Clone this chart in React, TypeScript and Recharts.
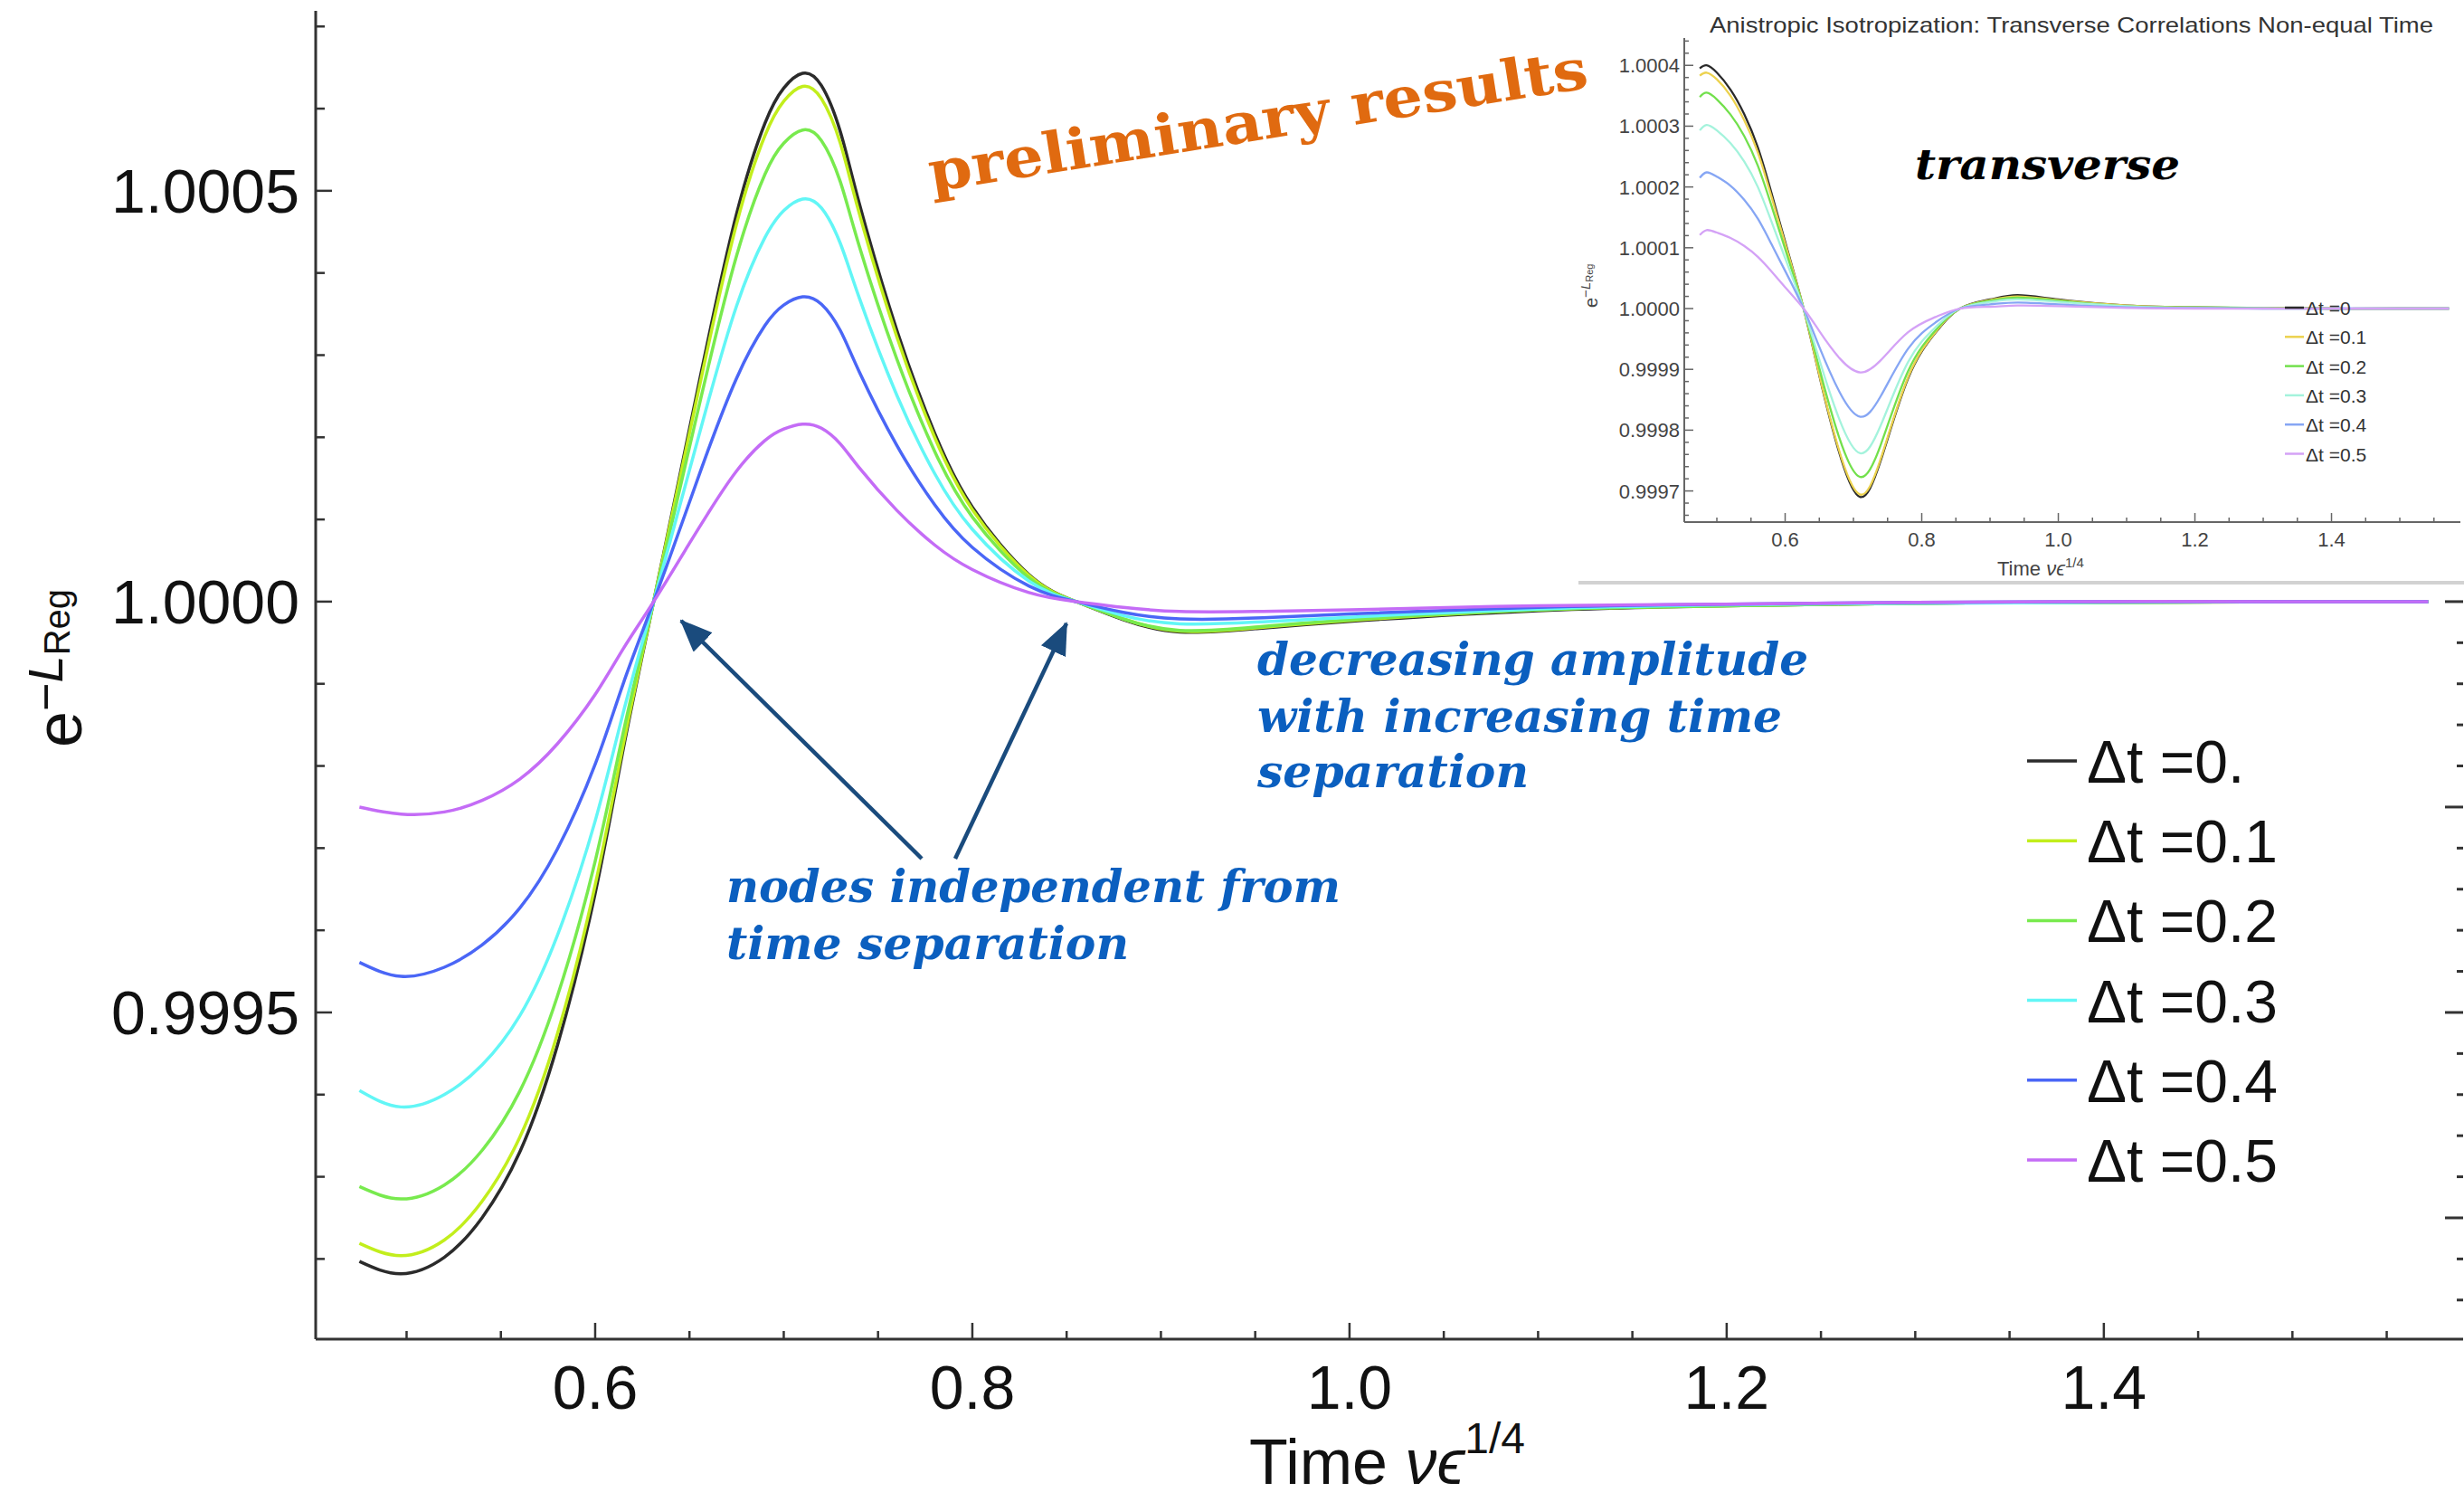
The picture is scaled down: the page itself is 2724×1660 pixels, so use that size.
import React from 'react';
import { LineChart, Line, XAxis, YAxis, Legend } from 'recharts';

// main plot: time grid (Time ν ε^{1/4})
const TIME = [0.475, 0.497, 0.52, 0.54, 0.56, 0.58, 0.6, 0.615, 0.631, 0.65, 0.66, 0.675, 0.69, 0.7, 0.71, 0.72, 0.73, 0.74, 0.76, 0.78, 0.8, 0.83, 0.855, 0.88, 0.91, 0.95, 1.0, 1.1, 1.2, 1.3, 1.4, 1.5, 1.572];

// e^{-L_Reg} - 1, in units of 1e-4
const DT_0 = [-8.03, -8.18, -7.98, -7.5, -6.7, -5.4, -3.55, -1.78, 0, 2.1, 3.2, 4.72, 5.82, 6.25, 6.43, 6.28, 5.72, 4.85, 3.3, 2.05, 1.15, 0.33, 0, -0.22, -0.37, -0.33, -0.24, -0.11, -0.05, -0.02, -0.01, 0, 0];
const DT_1 = [-7.81, -7.96, -7.77, -7.3, -6.52, -5.26, -3.45, -1.73, 0, 2.05, 3.12, 4.6, 5.67, 6.09, 6.27, 6.12, 5.58, 4.73, 3.22, 2.0, 1.12, 0.32, 0, -0.21, -0.36, -0.32, -0.23, -0.1, -0.05, -0.02, -0.01, 0, 0];
const DT_2 = [-7.12, -7.27, -7.1, -6.68, -5.96, -4.8, -3.16, -1.58, 0, 1.88, 2.86, 4.21, 5.2, 5.58, 5.74, 5.61, 5.11, 4.33, 2.95, 1.83, 1.03, 0.29, 0, -0.21, -0.35, -0.31, -0.22, -0.1, -0.05, -0.02, -0.01, 0, 0];
const DT_3 = [-5.95, -6.15, -6.0, -5.64, -5.04, -4.06, -2.67, -1.34, 0, 1.6, 2.44, 3.6, 4.43, 4.76, 4.9, 4.79, 4.36, 3.7, 2.51, 1.56, 0.88, 0.25, 0, -0.17, -0.27, -0.25, -0.19, -0.09, -0.04, -0.02, -0.01, 0, 0];
const DT_4 = [-4.39, -4.56, -4.45, -4.18, -3.73, -3.01, -1.98, -0.99, 0, 1.21, 1.85, 2.72, 3.36, 3.61, 3.71, 3.62, 3.3, 2.8, 1.9, 1.18, 0.66, 0.19, 0, -0.13, -0.21, -0.2, -0.15, -0.07, -0.03, -0.01, 0, 0, 0];
const DT_5 = [-2.5, -2.585, -2.56, -2.42, -2.16, -1.73, -1.13, -0.57, 0, 0.71, 1.08, 1.59, 1.96, 2.1, 2.16, 2.11, 1.92, 1.63, 1.11, 0.69, 0.39, 0.11, 0, -0.07, -0.12, -0.12, -0.1, -0.05, -0.03, -0.01, 0, 0, 0];

// inset (transverse)
const TIME_T = [0.475, 0.485, 0.5, 0.52, 0.54, 0.56, 0.58, 0.6, 0.627, 0.65, 0.68, 0.71, 0.74, 0.78, 0.82, 0.856, 0.9, 0.94, 1.0, 1.1, 1.2, 1.3, 1.4, 1.5, 1.572];
const TR_0 = [3.95, 4.0, 3.88, 3.6, 3.2, 2.65, 1.9, 1.1, 0, -1.1, -2.4, -3.1, -2.5, -1.15, -0.4, 0, 0.15, 0.22, 0.15, 0.05, 0.02, 0.01, 0, 0, 0];
const TR_1 = [3.83, 3.88, 3.77, 3.5, 3.1, 2.57, 1.84, 1.07, 0, -1.09, -2.37, -3.06, -2.47, -1.13, -0.39, 0, 0.14, 0.2, 0.14, 0.05, 0.02, 0.01, 0, 0, 0];
const TR_2 = [3.48, 3.55, 3.44, 3.19, 2.84, 2.35, 1.69, 0.98, 0, -0.98, -2.15, -2.77, -2.24, -1.03, -0.36, 0, 0.13, 0.18, 0.13, 0.04, 0.02, 0.01, 0, 0, 0];
const TR_3 = [2.93, 3.02, 2.93, 2.72, 2.42, 2.0, 1.43, 0.83, 0, -0.84, -1.84, -2.38, -1.92, -0.88, -0.31, 0, 0.11, 0.15, 0.11, 0.04, 0.01, 0, 0, 0, 0];
const TR_4 = [2.15, 2.24, 2.17, 2.02, 1.79, 1.48, 1.06, 0.62, 0, -0.63, -1.38, -1.78, -1.44, -0.66, -0.23, 0, 0.07, 0.1, 0.07, 0.02, 0.01, 0, 0, 0, 0];
const TR_5 = [1.21, 1.29, 1.25, 1.16, 1.03, 0.85, 0.61, 0.35, 0, -0.37, -0.82, -1.05, -0.85, -0.39, -0.14, 0, 0.03, 0.05, 0.04, 0.01, 0, 0, 0, 0, 0];

const MAIN_LABELS = ['Δt =0.', 'Δt =0.1', 'Δt =0.2', 'Δt =0.3', 'Δt =0.4', 'Δt =0.5'];
const INSET_LABELS = ['Δt =0', 'Δt =0.1', 'Δt =0.2', 'Δt =0.3', 'Δt =0.4', 'Δt =0.5'];
const MAIN_COLORS = ['#2b2b2b', '#c2ee1c', '#78ea4e', '#62f6f6', '#4a66f6', '#c46cf6'];
const INSET_COLORS = ['#2a2a2a', '#ecd24e', '#72e04c', '#a4f3dc', '#86a6f4', '#d4a2f6'];

const X_LABELS = [0.6, 0.8, 1.0, 1.2, 1.4];
const MAIN_Y_LABELS = [-5, 0, 5];
const INSET_Y_LABELS = [-3, -2, -1, 0, 1, 2, 3, 4];

const range = (a: number, b: number, step: number) => {
  const out: number[] = [];
  for (let v = a; v <= b + 1e-9; v += step) out.push(Math.round(v * 1000) / 1000);
  return out;
};
const isMult = (v: number, m: number) => Math.abs(v / m - Math.round(v / m)) < 1e-6;
const inList = (list: number[]) => (v: number) => list.some((l) => Math.abs(l - v) < 1e-6);
const fmtY = (v: number) => (1 + v / 1e4).toFixed(4);

const X_TICKS = range(0.5, 1.55, 0.05);
const MAIN_Y_TICKS = range(-8, 7, 1);
const MAIN_R_TICKS = range(-8.5, 7, 0.5);
const INSET_Y_TICKS = range(-3.4, 4.4, 0.2);

const SANS = '"Liberation Sans", Arial, Helvetica, sans-serif';
const SERIF = '"DejaVu Serif", serif';

type TickOpts = {
  side: 'bottom' | 'top' | 'left' | 'right';
  major: number;
  minor: number;
  isMajor: (v: number) => boolean;
  label?: (v: number) => string | null;
  fontSize?: number;
  offset?: number;
  color: string;
  width: number;
  textColor?: string;
};

const makeTick = (o: TickOpts) => (props: any) => {
  const { x, y, payload } = props;
  const v = Number(payload.value);
  const len = o.isMajor(v) ? o.major : o.minor;
  let x2 = x;
  let y2 = y;
  if (o.side === 'bottom') y2 = y - len;
  else if (o.side === 'top') y2 = y + len;
  else if (o.side === 'left') x2 = x + len;
  else x2 = x - len;
  const lab = o.label ? o.label(v) : null;
  const fs = o.fontSize || 20;
  return (
    <g>
      <line x1={x} y1={y} x2={x2} y2={y2} stroke={o.color} strokeWidth={o.width} />
      {lab !== null && o.side === 'bottom' && (
        <text x={x} y={y + (o.offset || 0)} textAnchor="middle" fontSize={fs} fontFamily={SANS} fill={o.textColor || '#111'}>
          {lab}
        </text>
      )}
      {lab !== null && o.side === 'left' && (
        <text x={x - (o.offset || 0)} y={y + fs * 0.36} textAnchor="end" fontSize={fs} fontFamily={SANS} fill={o.textColor || '#111'}>
          {lab}
        </text>
      )}
    </g>
  );
};

const mainData = TIME.map((t, i) => ({ t, s0: DT_0[i], s1: DT_1[i], s2: DT_2[i], s3: DT_3[i], s4: DT_4[i], s5: DT_5[i] }));
const insetData = TIME_T.map((t, i) => ({ t, s0: TR_0[i], s1: TR_1[i], s2: TR_2[i], s3: TR_3[i], s4: TR_4[i], s5: TR_5[i] }));
const KEYS = ['s0', 's1', 's2', 's3', 's4', 's5'];

const MAIN_X_DOMAIN: [number, number] = [0.4518, 1.5905];
const MAIN_Y_DOMAIN: [number, number] = [-8.976, 7.19];
const INSET_X_DOMAIN: [number, number] = [0.4523, 1.5887];
const INSET_Y_DOMAIN: [number, number] = [-3.512, 4.45];

const xMajor = (v: number) => isMult(v, 0.2);
const xLabel = (v: number) => (inList(X_LABELS)(v) ? v.toFixed(1) : null);

// the frame axes (top / right) share the same domain, so half of the curves are bound to them
const xIdFor = (i: number) => (i < 3 ? 0 : 'top');
const yIdFor = (i: number) => (i < 3 ? 0 : 'right');

const MainLegend = () => (
  <svg width={420} height={540}>
    {MAIN_LABELS.map((lab, i) => {
      const cy = 46 + 88.2 * i;
      return (
        <g key={lab}>
          <line x1={11} x2={66} y1={cy} y2={cy} stroke={MAIN_COLORS[i]} strokeWidth={3.5} />
          <text x={77} y={cy + 24} fontSize={66} fontFamily={SANS} fill="#111">
            {lab}
          </text>
        </g>
      );
    })}
  </svg>
);

const InsetLegend = () => (
  <svg width={160} height={220}>
    {INSET_LABELS.map((lab, i) => {
      const cy = 24 + 32.3 * i;
      return (
        <g key={lab}>
          <line x1={11} x2={32} y1={cy} y2={cy} stroke={INSET_COLORS[i]} strokeWidth={2.5} />
          <text x={34} y={cy + 8} fontSize={21} fontFamily={SANS} fill="#333">
            {lab}
          </text>
        </g>
      );
    })}
  </svg>
);

function MainChart() {
  return (
    <div style={{ position: 'absolute', left: 0, top: 0, width: 2724, height: 1660, overflow: 'hidden', background: '#fff' }}>
      <LineChart width={2724} height={1660} data={mainData} margin={{ top: 12, right: 0, left: 0, bottom: 0 }}>
        <XAxis
          dataKey="t"
          type="number"
          domain={MAIN_X_DOMAIN}
          allowDataOverflow
          ticks={X_TICKS}
          interval={0}
          tickSize={0}
          tickMargin={0}
          height={180}
          axisLine={{ stroke: '#333', strokeWidth: 3 }}
          tick={makeTick({ side: 'bottom', major: 18, minor: 9, isMajor: xMajor, label: xLabel, fontSize: 68, offset: 77, color: '#333', width: 2.5 })}
        />
        <XAxis
          xAxisId="top"
          orientation="top"
          dataKey="t"
          type="number"
          domain={MAIN_X_DOMAIN}
          allowDataOverflow
          ticks={X_TICKS}
          interval={0}
          tickSize={0}
          tickMargin={0}
          height={0}
          axisLine={{ stroke: '#444', strokeWidth: 3 }}
          tick={makeTick({ side: 'top', major: 25, minor: 12, isMajor: xMajor, color: '#333', width: 2.5 })}
        />
        <YAxis
          type="number"
          domain={MAIN_Y_DOMAIN}
          allowDataOverflow
          ticks={MAIN_Y_TICKS}
          interval={0}
          tickSize={0}
          tickMargin={0}
          width={349}
          axisLine={{ stroke: '#333', strokeWidth: 3 }}
          tick={makeTick({
            side: 'left',
            major: 18,
            minor: 10,
            isMajor: (v) => isMult(v, 5),
            label: (v) => (inList(MAIN_Y_LABELS)(v) ? fmtY(v) : null),
            fontSize: 68,
            offset: 18,
            color: '#333',
            width: 2.5,
          })}
        />
        <YAxis
          yAxisId="right"
          orientation="right"
          type="number"
          domain={MAIN_Y_DOMAIN}
          allowDataOverflow
          ticks={MAIN_R_TICKS}
          interval={0}
          tickSize={0}
          tickMargin={0}
          width={1}
          axisLine={false}
          tick={makeTick({ side: 'right', major: 20, minor: 7, isMajor: (v) => isMult(v, 2.5), color: '#333', width: 3 })}
        />
        <Legend layout="vertical" align="center" verticalAlign="middle" wrapperStyle={{ left: 2230, top: 795, width: 420, height: 540 }} content={() => <MainLegend />} />
        {KEYS.map((k, i) => (
          <Line
            key={k}
            dataKey={k}
            name={MAIN_LABELS[i]}
            xAxisId={xIdFor(i)}
            yAxisId={yIdFor(i)}
            type="natural"
            stroke={MAIN_COLORS[i]}
            strokeWidth={3.5}
            dot={false}
            isAnimationActive={false}
          />
        ))}
      </LineChart>
    </div>
  );
}

function InsetChart() {
  return (
    <div
      style={{
        position: 'absolute',
        left: 1745,
        top: 16,
        width: 979,
        height: 626,
        background: '#fff',
        borderBottom: '4px solid #d2d2d2',
        zIndex: 1,
      }}
    >
      <LineChart width={979} height={626} data={insetData} margin={{ top: 26, right: 4, left: 0, bottom: 0 }}>
        <XAxis
          dataKey="t"
          type="number"
          domain={INSET_X_DOMAIN}
          allowDataOverflow
          ticks={X_TICKS}
          interval={0}
          tickSize={0}
          tickMargin={0}
          height={65}
          axisLine={{ stroke: '#666', strokeWidth: 2 }}
          tick={makeTick({ side: 'bottom', major: 10, minor: 5, isMajor: xMajor, label: xLabel, fontSize: 22, offset: 27, color: '#666', width: 1.5, textColor: '#444' })}
        />
        <XAxis
          xAxisId="top"
          orientation="top"
          dataKey="t"
          type="number"
          domain={INSET_X_DOMAIN}
          allowDataOverflow
          ticks={X_TICKS}
          interval={0}
          tickSize={0}
          tickMargin={0}
          height={0}
          axisLine={{ stroke: '#666', strokeWidth: 2 }}
          tick={makeTick({ side: 'top', major: 10, minor: 5, isMajor: xMajor, color: '#666', width: 1.5 })}
        />
        <YAxis
          type="number"
          domain={INSET_Y_DOMAIN}
          allowDataOverflow
          ticks={INSET_Y_TICKS}
          interval={0}
          tickSize={0}
          tickMargin={0}
          width={117}
          axisLine={{ stroke: '#666', strokeWidth: 2 }}
          tick={makeTick({
            side: 'left',
            major: 10,
            minor: 5,
            isMajor: (v) => isMult(v, 1),
            label: (v) => (inList(INSET_Y_LABELS)(v) ? fmtY(v) : null),
            fontSize: 22,
            offset: 5,
            color: '#666',
            width: 1.5,
            textColor: '#444',
          })}
        />
        <YAxis
          yAxisId="right"
          orientation="right"
          type="number"
          domain={INSET_Y_DOMAIN}
          allowDataOverflow
          ticks={INSET_Y_TICKS}
          interval={0}
          tickSize={0}
          tickMargin={0}
          width={0}
          axisLine={{ stroke: '#666', strokeWidth: 2 }}
          tick={makeTick({ side: 'right', major: 10, minor: 5, isMajor: (v) => isMult(v, 1), color: '#666', width: 1.5 })}
        />
        <Legend layout="vertical" align="center" verticalAlign="middle" wrapperStyle={{ left: 770, top: 300, width: 160, height: 220 }} content={() => <InsetLegend />} />
        {KEYS.map((k, i) => (
          <Line
            key={k}
            dataKey={k}
            name={INSET_LABELS[i]}
            xAxisId={xIdFor(i)}
            yAxisId={yIdFor(i)}
            type="natural"
            stroke={INSET_COLORS[i]}
            strokeWidth={2.3}
            dot={false}
            isAnimationActive={false}
          />
        ))}
      </LineChart>
    </div>
  );
}

function Annotations() {
  const arrow = '#1a4b7d';
  const blue = '#0b5fbf';
  return (
    <svg width={2724} height={1660} style={{ position: 'absolute', left: 0, top: 0, zIndex: 3, pointerEvents: 'none' }}>
      <defs>
        <marker id="ahead" markerUnits="userSpaceOnUse" markerWidth={36} markerHeight={30} refX={34} refY={15} orient="auto">
          <path d="M0,0 L36,15 L0,30 Z" fill={arrow} />
        </marker>
      </defs>

      {/* inset titles and labels */}
      <text x={2290} y={36} textAnchor="middle" fontSize={24} fontFamily={SANS} fill="#333" textLength={800} lengthAdjust="spacingAndGlyphs">
        Anistropic Isotropization: Transverse Correlations Non-equal Time
      </text>
      <text x={2208} y={636} fontSize={22} fontFamily={SANS} fill="#444">
        Time <tspan fontStyle="italic">νϵ</tspan>
        <tspan fontSize={15} dy={-9}>1/4</tspan>
      </text>
      <g transform="translate(1766,340) rotate(-90)">
        <text x={0} y={0} fontSize={20} fontFamily={SANS} fill="#444">
          e<tspan fontSize={15} dy={-8}>−</tspan>
          <tspan fontSize={15} fontStyle="italic">L</tspan>
          <tspan fontSize={11} dy={3}>Reg</tspan>
        </text>
      </g>
      <text x={2117} y={198} fontSize={46} fontFamily={SERIF} fontWeight="bold" fontStyle="italic" fill="#000" textLength={293} lengthAdjust="spacingAndGlyphs">
        transverse
      </text>

      {/* main axis labels */}
      <text x={1381} y={1640} fontSize={70} fontFamily={SANS} fill="#111">
        Time <tspan fontStyle="italic">νϵ</tspan>
        <tspan fontSize={48} dy={-34}>1/4</tspan>
      </text>
      <g transform="translate(90,826) rotate(-90)">
        <text x={0} y={0} fontSize={72} fontFamily={SANS} fill="#111">
          e<tspan fontSize={54} dy={-21}>−</tspan>
          <tspan fontSize={54} fontStyle="italic">L</tspan>
          <tspan fontSize={40} dy={8}>Reg</tspan>
        </text>
      </g>

      {/* preliminary stamp */}
      <text
        transform="translate(1030,212) rotate(-9)"
        fontSize={62}
        fontFamily={SERIF}
        fontWeight="bold"
        fill="#e06a10"
        textLength={737}
        lengthAdjust="spacingAndGlyphs"
      >
        preliminary results
      </text>

      {/* arrows to the nodes */}
      <line x1={1019} y1={949} x2={753} y2={686} stroke={arrow} strokeWidth={4.5} markerEnd="url(#ahead)" />
      <line x1={1056} y1={949} x2={1179} y2={689} stroke={arrow} strokeWidth={4.5} markerEnd="url(#ahead)" />

      <g fontFamily={SERIF} fontWeight="bold" fontStyle="italic" fill={blue} fontSize={50}>
        <text x={803} y={997} textLength={679} lengthAdjust="spacingAndGlyphs">nodes independent from</text>
        <text x={803} y={1060} textLength={445} lengthAdjust="spacingAndGlyphs">time separation</text>
        <text x={1390} y={746} textLength={609} lengthAdjust="spacingAndGlyphs">decreasing amplitude</text>
        <text x={1390} y={809} textLength={580} lengthAdjust="spacingAndGlyphs">with increasing time</text>
        <text x={1390} y={870} textLength={300} lengthAdjust="spacingAndGlyphs">separation</text>
      </g>
    </svg>
  );
}

export default function App() {
  return (
    <div style={{ position: 'absolute', left: 0, top: 0, width: 2724, height: 1660, overflow: 'hidden', background: '#fff' }}>
      <MainChart />
      <InsetChart />
      <Annotations />
    </div>
  );
}
